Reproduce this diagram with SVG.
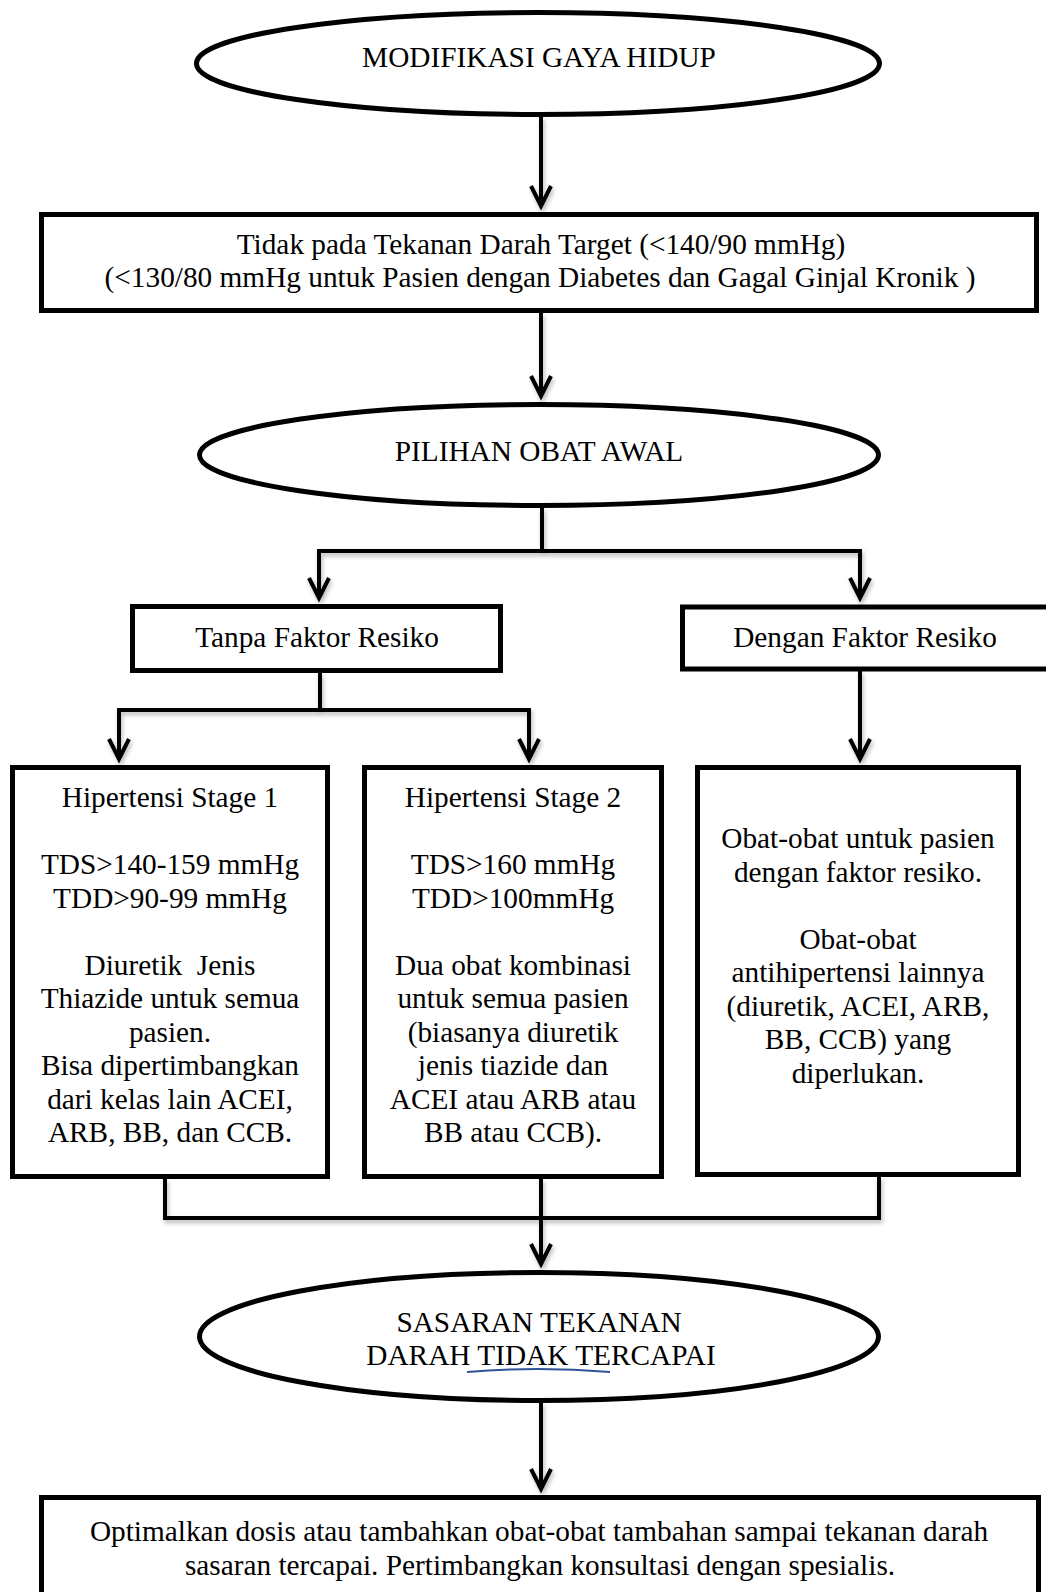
<svg xmlns="http://www.w3.org/2000/svg" width="1046" height="1592" viewBox="0 0 1046 1592">
<style>
.t{font-family:"Liberation Serif","Times New Roman",serif;font-size:29.3px;fill:#000;text-anchor:middle;white-space:pre}
.n{fill:#fff;stroke:#000;stroke-width:5}
.c{fill:none;stroke:#000;stroke-width:4}
</style>
<defs>
<filter id="sh" x="-5%" y="-5%" width="110%" height="115%">
<feDropShadow dx="1.5" dy="3" stdDeviation="2" flood-color="#000" flood-opacity="0.28"/>
</filter>
<marker id="arr" viewBox="-24 -12 30 24" refX="0" refY="0" markerWidth="30" markerHeight="24" markerUnits="userSpaceOnUse" orient="auto">
<path d="M-20,-10 L0,0 L-20,10" fill="none" stroke="#000" stroke-width="4"/>
</marker>
</defs>
<rect width="1046" height="1592" fill="#fff"/>
<g id="connectors" filter="url(#sh)">
<path class="c" d="M541,117 V206" marker-end="url(#arr)"/>
<path class="c" d="M541,313 V396" marker-end="url(#arr)"/>
<path class="c" d="M542,508 V551"/>
<path class="c" d="M319,551 H861"/>
<path class="c" d="M319,549 V598" marker-end="url(#arr)"/>
<path class="c" d="M860,549 V598" marker-end="url(#arr)"/>
<path class="c" d="M320,673 V710"/>
<path class="c" d="M117,710 H531"/>
<path class="c" d="M119,708 V759" marker-end="url(#arr)"/>
<path class="c" d="M529,708 V759" marker-end="url(#arr)"/>
<path class="c" d="M860,671 V759" marker-end="url(#arr)"/>
<path class="c" d="M165,1179 V1218 H879 V1177"/>
<path class="c" d="M541,1179 V1264" marker-end="url(#arr)"/>
<path class="c" d="M541,1403 V1489" marker-end="url(#arr)"/>
</g>
<g id="modifikasi">
<ellipse class="n" cx="538" cy="63.5" rx="341.5" ry="51"/>
<text class="t" x="539" y="67">MODIFIKASI GAYA HIDUP</text>
</g>
<g id="tidak-target">
<rect class="n" x="41.5" y="214.5" width="995" height="96"/>
<text class="t" x="541" y="254">Tidak pada Tekanan Darah Target (&lt;140/90 mmHg)</text>
<text class="t" x="540" y="287">(&lt;130/80 mmHg untuk Pasien dengan Diabetes dan Gagal Ginjal Kronik )</text>
</g>
<g id="pilihan">
<ellipse class="n" cx="539" cy="455" rx="339.5" ry="50.5"/>
<text class="t" x="539" y="461">PILIHAN OBAT AWAL</text>
</g>
<g id="tanpa">
<rect class="n" x="132.5" y="606.5" width="368" height="64"/>
<text class="t" x="317" y="647">Tanpa Faktor Resiko</text>
</g>
<g id="dengan">
<rect class="n" x="682.5" y="607" width="400" height="62"/>
<text class="t" x="865" y="647">Dengan Faktor Resiko</text>
</g>
<g id="stage1">
<rect class="n" x="12.5" y="767.5" width="315" height="409"/>
<text class="t" x="170" y="807">Hipertensi Stage 1</text>
<text class="t" x="170" y="874">TDS&gt;140-159 mmHg</text>
<text class="t" x="170" y="907.5">TDD&gt;90-99 mmHg</text>
<text class="t" x="170" y="974.5">Diuretik  Jenis</text>
<text class="t" x="170" y="1008">Thiazide untuk semua</text>
<text class="t" x="170" y="1041.5">pasien.</text>
<text class="t" x="170" y="1075">Bisa dipertimbangkan</text>
<text class="t" x="170" y="1108.5">dari kelas lain ACEI,</text>
<text class="t" x="170" y="1142">ARB, BB, dan CCB.</text>
</g>
<g id="stage2">
<rect class="n" x="364.5" y="767.5" width="297" height="409"/>
<text class="t" x="513" y="807">Hipertensi Stage 2</text>
<text class="t" x="513" y="874">TDS&gt;160 mmHg</text>
<text class="t" x="513" y="907.5">TDD&gt;100mmHg</text>
<text class="t" x="513" y="974.5">Dua obat kombinasi</text>
<text class="t" x="513" y="1008">untuk semua pasien</text>
<text class="t" x="513" y="1041.5">(biasanya diuretik</text>
<text class="t" x="513" y="1075">jenis tiazide dan</text>
<text class="t" x="513" y="1108.5">ACEI atau ARB atau</text>
<text class="t" x="513" y="1142">BB atau CCB).</text>
</g>
<g id="faktor-resiko-obat">
<rect class="n" x="697.5" y="767.5" width="321" height="407"/>
<text class="t" x="858" y="848">Obat-obat untuk pasien</text>
<text class="t" x="858" y="881.5">dengan faktor resiko.</text>
<text class="t" x="858" y="948.5">Obat-obat</text>
<text class="t" x="858" y="982">antihipertensi lainnya</text>
<text class="t" x="858" y="1015.5">(diuretik, ACEI, ARB,</text>
<text class="t" x="858" y="1049">BB, CCB) yang</text>
<text class="t" x="858" y="1082.5">diperlukan.</text>
</g>
<g id="sasaran">
<ellipse class="n" cx="539" cy="1336.5" rx="339.5" ry="64"/>
<text class="t" x="539" y="1332">SASARAN TEKANAN</text>
<text class="t" x="541" y="1365">DARAH TIDAK TERCAPAI</text>
<path d="M467,1372 Q538,1366 610,1372" fill="none" stroke="#2f5597" stroke-width="2"/>
</g>
<g id="optimalkan">
<rect class="n" x="41.5" y="1497.5" width="997" height="200"/>
<text class="t" x="539" y="1541">Optimalkan dosis atau tambahkan obat-obat tambahan sampai tekanan darah</text>
<text class="t" x="540" y="1575">sasaran tercapai. Pertimbangkan konsultasi dengan spesialis.</text>
</g>
</svg>
